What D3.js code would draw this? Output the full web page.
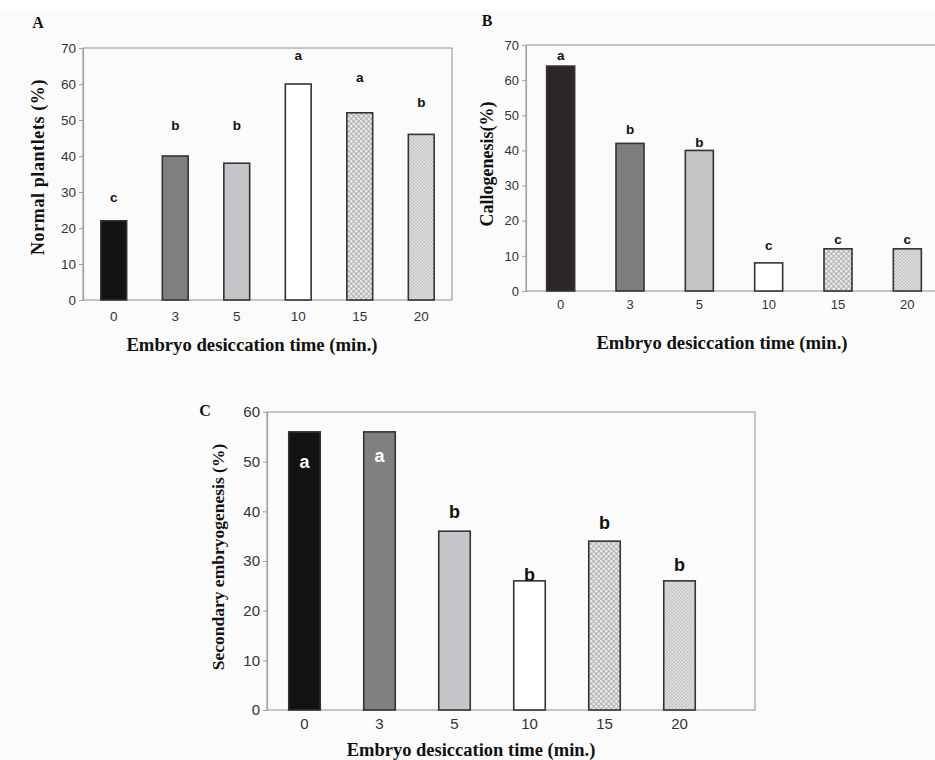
<!DOCTYPE html>
<html><head><meta charset="utf-8">
<script src="https://cdn.jsdelivr.net/npm/d3@7"></script>
<style>
html,body{margin:0;padding:0;background:#fff;}
svg{display:block;}
</style></head>
<body>
<svg id="chart" width="935" height="760"></svg>
<script>
// ---- data ----
const categories = ["0", "3", "5", "10", "15", "20"];
const normalPlantlets = [22, 40, 38, 60, 52, 46];
const callogenesis = [64, 42, 40, 8, 12, 12];
const secondaryEmbryogenesis = [56, 56, 36, 26, 34, 26];
const lettersA = ["c", "b", "b", "a", "a", "b"];
const lettersB = ["a", "b", "b", "c", "c", "c"];
const lettersC = ["a", "a", "b", "b", "b", "b"];
// letter heights (in axis units)
const letterLevelA = [28.6, 48.6, 48.6, 68, 62, 55];
const letterLevelB = [67.2, 45.9, 42.4, 13.1, 14.7, 14.7];
const letterLevelC = [50, 51.3, 39.9, 27.2, 37.8, 29.3];
const yTicksAB = [0, 10, 20, 30, 40, 50, 60, 70];
const yTicksC = [0, 10, 20, 30, 40, 50, 60];

const svg = d3.select("#chart");
svg.append("rect").attr("width", 935).attr("height", 760).attr("fill", "#fbfbfb");
svg.append("rect").attr("width", 935).attr("height", 10).attr("fill", "#ffffff");

// ---- patterns ----
const defs = svg.append("defs");
const p15 = defs.append("pattern").attr("id", "pat15").attr("patternUnits", "userSpaceOnUse")
  .attr("width", 5).attr("height", 5);
p15.append("rect").attr("width", 5).attr("height", 5).attr("fill", "#b9b9b9");
p15.append("circle").attr("cx", 1.25).attr("cy", 1.25).attr("r", 1.3).attr("fill", "#ececec");
p15.append("circle").attr("cx", 3.75).attr("cy", 3.75).attr("r", 1.3).attr("fill", "#ececec");
const p20 = defs.append("pattern").attr("id", "pat20").attr("patternUnits", "userSpaceOnUse")
  .attr("width", 3.4).attr("height", 3.4);
p20.append("rect").attr("width", 3.4).attr("height", 3.4).attr("fill", "#c2c2c2");
p20.append("circle").attr("cx", 0.85).attr("cy", 0.85).attr("r", 0.85).attr("fill", "#eeeeee");
p20.append("circle").attr("cx", 2.55).attr("cy", 2.55).attr("r", 0.85).attr("fill", "#eeeeee");

const fillsAC = ["#121212", "#808080", "#c6c4c8", "#ffffff", "url(#pat15)", "url(#pat20)"];
const fillsB = ["#2b2727", "#7e7c7d", "#c5c3c6", "#ffffff", "url(#pat15)", "url(#pat20)"];

const serif = "'Liberation Serif', 'Times New Roman', serif";
const sans = "'Liberation Sans', Arial, sans-serif";

function panel(cfg) {
  const g = svg.append("g");
  const x = d3.scaleBand().domain(categories).range([cfg.left, cfg.bandRight])
    .paddingInner(cfg.pad).paddingOuter(cfg.pad / 2);
  const y = d3.scaleLinear().domain([0, cfg.ymax]).range([cfg.bottom, cfg.top]);

  // frame
  g.append("rect").attr("x", cfg.left).attr("y", cfg.top)
    .attr("width", cfg.frameRight - cfg.left).attr("height", cfg.bottom - cfg.top)
    .attr("fill", "none").attr("stroke", "#a2a2a2").attr("stroke-width", 1.2);

  // bars
  g.selectAll("rect.bar").data(cfg.values).join("rect").attr("class", "bar")
    .attr("x", (d, i) => x(categories[i]))
    .attr("y", d => y(d))
    .attr("width", x.bandwidth())
    .attr("height", d => y(0) - y(d))
    .attr("fill", (d, i) => cfg.fills[i])
    .attr("stroke", "#333")
    .attr("stroke-width", 1.6);

  // axes
  const ya = g.append("g").attr("transform", `translate(${cfg.left},0)`)
    .call(d3.axisLeft(y).tickValues(cfg.ticks).tickSize(4).tickPadding(3).tickFormat(d3.format("d")));
  ya.select(".domain").attr("stroke", "#a2a2a2").attr("stroke-width", 1.2);
  ya.selectAll(".tick line").attr("stroke", "#a2a2a2");
  ya.selectAll("text").attr("font-family", sans).attr("font-size", cfg.tickSize).attr("fill", "#333");

  const xa = g.append("g").attr("transform", `translate(0,${cfg.bottom})`)
    .call(d3.axisBottom(x).tickSize(0).tickPadding(cfg.xPad));
  xa.select(".domain").remove();
  xa.selectAll("text").attr("font-family", sans).attr("font-size", cfg.tickSize).attr("fill", "#333");

  // letters
  g.selectAll("text.letter").data(cfg.letters).join("text").attr("class", "letter")
    .attr("x", (d, i) => x(categories[i]) + x.bandwidth() / 2)
    .attr("y", (d, i) => y(cfg.levels[i]))
    .attr("dy", "0.35em")
    .attr("text-anchor", "middle")
    .attr("font-family", sans).attr("font-weight", "bold")
    .attr("font-size", cfg.letterSize)
    .attr("fill", (d, i) => (cfg.whiteLetters && cfg.whiteLetters[i]) ? "#ffffff" : "#111")
    .text(d => d);

  // titles
  g.append("text").attr("transform", `translate(${cfg.yTitle[0]},${cfg.yTitle[1]}) rotate(-90)`)
    .attr("text-anchor", "middle").attr("dy", "0.35em")
    .attr("font-family", serif).attr("font-weight", "bold").attr("font-size", cfg.yTitleSize)
    .attr("letter-spacing", cfg.yTitleSpacing || 0)
    .attr("fill", "#111").text(cfg.yLabel);
  g.append("text").attr("x", cfg.xTitle[0]).attr("y", cfg.xTitle[1])
    .attr("text-anchor", "middle")
    .attr("font-family", serif).attr("font-weight", "bold").attr("font-size", cfg.xTitleSize)
    .attr("fill", "#111").text("Embryo desiccation time (min.)");
  g.append("text").attr("x", cfg.tag[0]).attr("y", cfg.tag[1])
    .attr("text-anchor", "middle").attr("dy", "0.35em")
    .attr("font-family", serif).attr("font-weight", "bold").attr("font-size", 16)
    .attr("fill", "#111").text(cfg.tagText);
}

panel({
  left: 83, bandRight: 452, frameRight: 452, top: 48, bottom: 300, ymax: 70, pad: 0.58,
  values: normalPlantlets, fills: fillsAC, ticks: yTicksAB, tickSize: 13.5, xPad: 11,
  letters: lettersA, levels: letterLevelA, letterSize: 13.5,
  yLabel: "Normal plantlets (%)", yTitle: [38, 167], yTitleSize: 18, yTitleSpacing: 0.6,
  xTitle: [252, 351], xTitleSize: 18.7, tag: [38, 22], tagText: "A"
});
panel({
  left: 526, bandRight: 942, frameRight: 942, top: 45, bottom: 291, ymax: 70, pad: 0.596,
  values: callogenesis, fills: fillsB, ticks: yTicksAB, tickSize: 13, xPad: 9,
  letters: lettersB, levels: letterLevelB, letterSize: 13.5,
  yLabel: "Callogenesis(%)", yTitle: [487, 164], yTitleSize: 18,
  xTitle: [722, 349], xTitleSize: 18.7, tag: [487, 20], tagText: "B"
});
panel({
  left: 267, bandRight: 717, frameRight: 755, top: 412, bottom: 710, ymax: 60, pad: 0.58,
  values: secondaryEmbryogenesis, fills: fillsAC, ticks: yTicksC, tickSize: 15, xPad: 8,
  letters: lettersC, levels: letterLevelC, letterSize: 18, whiteLetters: [true, true, false, false, false, false],
  yLabel: "Secondary embryogenesis (%)", yTitle: [218, 557], yTitleSize: 17.5,
  xTitle: [471, 756], xTitleSize: 18.5, tag: [205, 410], tagText: "C"
});
</script>
</body></html>
